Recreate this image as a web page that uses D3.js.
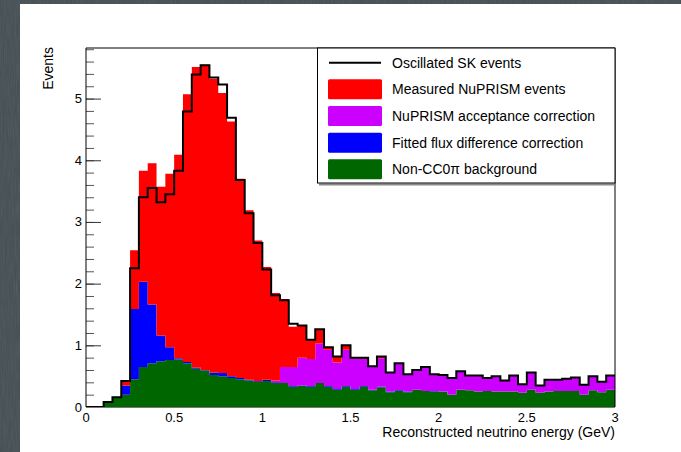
<!DOCTYPE html>
<html>
<head>
<meta charset="utf-8">
<script src="https://cdn.jsdelivr.net/npm/d3@7"></script>
<style>
  html, body { margin: 0; padding: 0; overflow: hidden; background: #fff; }
  svg { display: block; font-family: "Liberation Sans", Arial, Helvetica, sans-serif; }
</style>
</head>
<body>
<svg id="chart" width="681" height="452"></svg>
<script>
// 60 bins of 0.05 GeV from 0 to 3 GeV
const binWidth = 0.05;
const nBins = 60;

// stacked contributions per bin (bottom to top)
const background = [0, 0, 0.08, 0.16, 0.20, 0.45, 0.65, 0.71, 0.74, 0.76,
    0.77, 0.71, 0.62, 0.59, 0.52, 0.50, 0.47, 0.45, 0.43, 0.41,
    0.42, 0.39, 0.39, 0.33, 0.34, 0.33, 0.39, 0.33, 0.28, 0.33,
    0.28, 0.33, 0.27, 0.32, 0.24, 0.26, 0.24, 0.28, 0.26, 0.25,
    0.25, 0.20, 0.28, 0.27, 0.25, 0.26, 0.25, 0.25, 0.25, 0.23,
    0.28, 0.23, 0.25, 0.26, 0.26, 0.26, 0.20, 0.27, 0.24, 0.28];
const fluxCorr = [0, 0, 0, 0, 0.15, 1.14, 1.38, 0.95, 0.42, 0.21,
    0.02, 0.02, 0.02, 0.01, 0.04, 0.05, 0.03, 0.02, 0.01, 0.01,
    0.02, 0.01, 0, 0.01, 0.01, 0.01, 0, 0.01, 0.01, 0.01,
    0.01, 0.01, 0.01, 0.01, 0.01, 0.01, 0.01, 0, 0, 0.01,
    0, 0, 0, 0, 0, 0, 0, 0, 0, 0,
    0, 0, 0, 0, 0, 0, 0, 0, 0, 0];
const acceptCorr = [0, 0, 0, 0, 0, 0, 0, 0, 0, 0,
    0, 0, 0, 0, 0, 0, 0, 0, 0, 0,
    0, 0.03, 0.26, 0.31, 0.45, 0.44, 0.64, 0.59, 0.43, 0.59,
    0.50, 0.44, 0.37, 0.46, 0.30, 0.44, 0.28, 0.32, 0.39, 0.27,
    0.27, 0.27, 0.30, 0.24, 0.26, 0.21, 0.25, 0.18, 0.26, 0.14,
    0.28, 0.12, 0.19, 0.18, 0.20, 0.22, 0.16, 0.23, 0.17, 0.23];
const measured = [0, 0, 0, 0, 0.08, 0.95, 1.80, 2.29, 2.41, 2.81,
    3.30, 4.34, 4.87, 4.95, 4.76, 4.54, 4.13, 3.23, 2.75, 2.28,
    1.83, 1.42, 1.10, 0.65, 0.53, 0.31, 0.22, 0.04, 0.10, 0.07,
    0.01, 0.02, 0.01, 0.02, 0.01, 0, 0, 0, 0, 0,
    0, 0, 0, 0, 0, 0, 0, 0, 0, 0,
    0, 0, 0, 0, 0, 0, 0, 0, 0, 0];
// oscillated SK prediction (black line)
const oscillated = [0, 0, 0.08, 0.16, 0.42, 2.25, 3.40, 3.55, 3.32, 3.45,
    3.83, 4.79, 5.39, 5.54, 5.34, 5.23, 4.69, 3.68, 3.14, 2.66,
    2.23, 1.81, 1.73, 1.35, 1.32, 1.09, 1.26, 0.97, 0.82, 1.00,
    0.80, 0.80, 0.66, 0.82, 0.56, 0.71, 0.53, 0.60, 0.65, 0.53,
    0.52, 0.47, 0.58, 0.51, 0.51, 0.47, 0.50, 0.43, 0.51, 0.37,
    0.56, 0.35, 0.44, 0.44, 0.46, 0.48, 0.36, 0.50, 0.41, 0.51];

const legendLabels = ["Oscillated SK events", "Measured NuPRISM events",
    "NuPRISM acceptance correction", "Fitted flux difference correction",
    "Non-CC0\u03c0 background"];
const xTicks = [0, 0.5, 1, 1.5, 2, 2.5, 3];
const yTicks = [0, 1, 2, 3, 4, 5];

const svg = d3.select("#chart");
const W = 681, H = 452;

// slide background + white panel
const defs = svg.append("defs");
const f = defs.append("filter").attr("id", "grain");
f.append("feTurbulence").attr("type", "fractalNoise").attr("baseFrequency", "0.9 0.05")
    .attr("numOctaves", 2).attr("seed", 3);
f.append("feColorMatrix").attr("type", "saturate").attr("values", 0);
svg.append("rect").attr("width", W).attr("height", H).attr("fill", "#444e52");
svg.append("rect").attr("width", W).attr("height", H).attr("filter", "url(#grain)").attr("opacity", 0.12);
svg.append("rect").attr("x", 20).attr("y", 4).attr("width", W - 20).attr("height", H - 4).attr("fill", "#fff");

const x = d3.scaleLinear().domain([0, 3]).range([86, 615]);
const y = d3.scaleLinear().domain([0, 5.82]).range([407, 48]);

// rows for the stack
const rows = d3.range(nBins + 1).map(i => {
    const k = Math.min(i, nBins - 1);
    return {
        e: i * binWidth,
        background: background[k],
        fluxCorr: fluxCorr[k],
        acceptCorr: acceptCorr[k],
        measured: measured[k],
        oscillated: oscillated[k]
    };
});

const keys = ["background", "fluxCorr", "acceptCorr", "measured"];
const colors = { background: "#006600", fluxCorr: "#0000ff", acceptCorr: "#cc00ff", measured: "#ff0000" };
const stack = d3.stack().keys(keys)(rows);

// y axis ticks (inside, ROOT style)
const g = svg.append("g");
g.append("g")
    .attr("transform", `translate(${x(0)},0)`)
    .call(d3.axisRight(y).tickValues(d3.range(0, 5.81, 0.2)).tickSize(8).tickFormat(""))
    .call(a => a.select(".domain").remove())
    .call(a => a.selectAll("line").attr("stroke", "#555"));
g.append("g")
    .attr("transform", `translate(${x(0)},0)`)
    .call(d3.axisRight(y).tickValues(yTicks).tickSize(15).tickFormat(""))
    .call(a => a.select(".domain").remove())
    .call(a => a.selectAll("line").attr("stroke", "#333"));

// stacked fills
const area = d3.area()
    .curve(d3.curveStepAfter)
    .x(d => x(d.data.e))
    .y0(d => y(d[0]))
    .y1(d => y(d[1]));

g.selectAll(".layer")
    .data(stack)
    .enter().append("path")
    .attr("class", "layer")
    .attr("fill", d => colors[d.key])
    .attr("d", area);

// oscillated line
const line = d3.line()
    .curve(d3.curveStepAfter)
    .x(d => x(d.e))
    .y(d => y(d.oscillated));

g.append("path")
    .datum(rows)
    .attr("fill", "none")
    .attr("stroke", "#000")
    .attr("stroke-width", 2)
    .attr("d", line);

// frame
g.append("line").attr("x1", x(0)).attr("x2", x(3)).attr("y1", y(0) + 0.5).attr("y2", y(0) + 0.5)
    .attr("stroke", "#777");
g.append("line").attr("x1", x(0)).attr("x2", x(3)).attr("y1", 48).attr("y2", 48).attr("stroke", "#000");
g.append("line").attr("x1", x(3)).attr("x2", x(3)).attr("y1", 48).attr("y2", y(0)).attr("stroke", "#000");
g.append("line").attr("x1", x(0)).attr("x2", x(0)).attr("y1", 48).attr("y2", y(0)).attr("stroke", "#000");

// tick labels
g.selectAll(".ylab")
    .data(yTicks)
    .enter().append("text")
    .attr("x", 82).attr("y", d => y(d) + 4.5)
    .attr("text-anchor", "end").attr("font-size", 13)
    .text(d => d);
g.selectAll(".xlab")
    .data(xTicks)
    .enter().append("text")
    .attr("x", d => x(d)).attr("y", 422)
    .attr("text-anchor", "middle").attr("font-size", 13)
    .text(d => d);

// axis titles
svg.append("text")
    .attr("x", 615).attr("y", 437)
    .attr("text-anchor", "end").attr("font-size", 14)
    .text("Reconstructed neutrino energy (GeV)");
svg.append("text")
    .attr("transform", "translate(53,47) rotate(-90)")
    .attr("text-anchor", "end").attr("font-size", 14)
    .text("Events");

// legend
const leg = svg.append("g");
leg.append("line").attr("x1", 319).attr("x2", 615).attr("y1", 184.5).attr("y2", 184.5)
    .attr("stroke", "#888").attr("stroke-width", 2);
leg.append("rect").attr("x", 317.5).attr("y", 48).attr("width", 297.5).attr("height", 135)
    .attr("fill", "#fff").attr("stroke", "#000");
const legColors = [null, colors.measured, colors.acceptCorr, colors.fluxCorr, colors.background];
legendLabels.forEach((lab, i) => {
    const cy = 62.7 + i * 26.65;
    if (i === 0) {
        leg.append("line").attr("x1", 329).attr("x2", 381).attr("y1", cy).attr("y2", cy)
            .attr("stroke", "#000").attr("stroke-width", 2);
    } else {
        leg.append("rect").attr("x", 328).attr("y", cy - 10).attr("width", 54).attr("height", 20)
            .attr("rx", 1.5).attr("fill", legColors[i]);
    }
    leg.append("text").attr("x", 392).attr("y", cy + 5).attr("font-size", 14).text(lab);
});
</script>
</body>
</html>
